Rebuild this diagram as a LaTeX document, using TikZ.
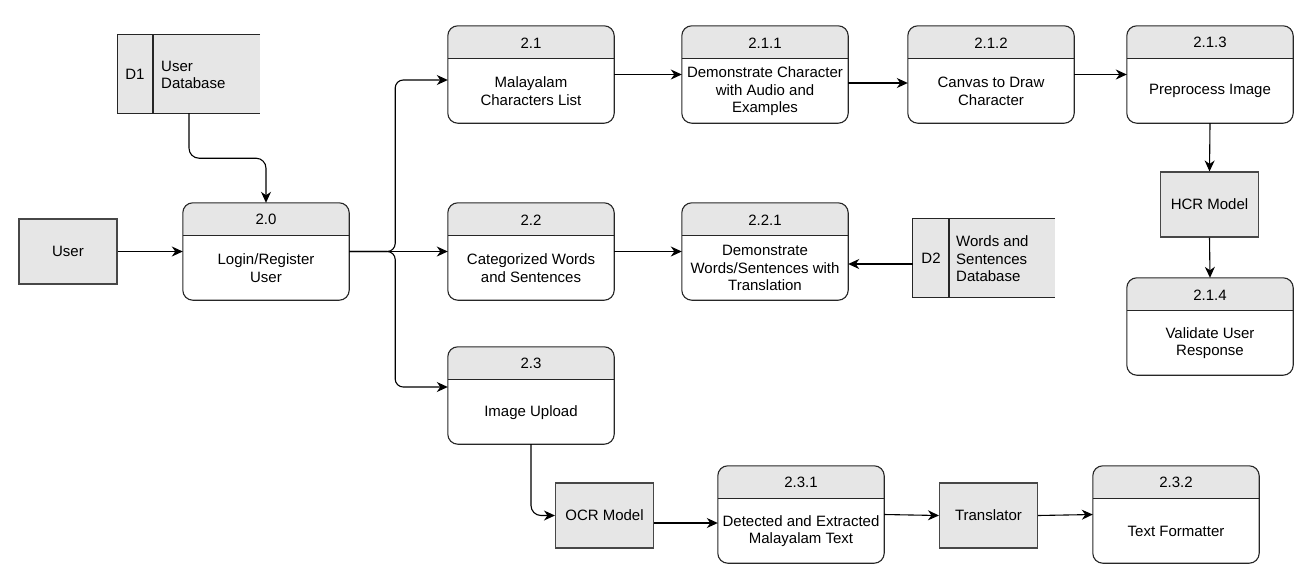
\documentclass[tikz,border=0pt]{standalone}
\usepackage{fontspec}
\setmainfont{Liberation Sans}
\usetikzlibrary{arrows.meta,calc}
\definecolor{hdr}{HTML}{E6E6E6}
\definecolor{ln}{HTML}{262626}
\tikzset{
  base/.style={font=\fontsize{15}{17.5}\selectfont, text=black},
  procbox/.style={minimum width=166pt, minimum height=97pt, inner sep=0pt},
  procline/.style={draw=ln, line width=1.1pt},
  txt/.style={base, align=center, inner sep=0pt},
  ext/.style={base, draw=ln!85!white, line width=1.1pt, fill=hdr, minimum width=98pt, minimum height=65pt, inner sep=0pt},
  storebox/.style={fill=hdr, minimum width=142pt, minimum height=78pt, inner sep=0pt},
  arr/.style={draw=black, line width=1.1pt, -{Stealth[length=11pt,width=10pt,inset=3.5pt]}},
}
\newcommand{\procnode}[5]{%
  \node[procbox] (#1) at (#2,#3+48.5) {};
  \begin{scope}
    \clip[rounded corners=10pt] (#1.north west) rectangle (#1.south east);
    \fill[hdr] (#1.north west) rectangle ([yshift=-33pt]#1.north east);
  \end{scope}
  \draw[procline] ([yshift=-33pt]#1.north west) -- ([yshift=-33pt]#1.north east);
  \draw[procline, rounded corners=10pt] (#1.north west) rectangle (#1.south east);
  \node[txt] (#1-num) at ([yshift=-17pt]#1.north) {#4};
  \node[txt] (#1-txt) at ([yshift=32pt]#1.south) {#5};
}
\begin{document}
\begin{tikzpicture}[x=1pt,y=-1pt]
\useasboundingbox (0,0) rectangle (1308,582);

% data stores
\node[storebox] (d1) at (189,74) {};
\draw[procline] (d1.north east) -- (d1.north west) -- (d1.south west) -- (d1.south east);
\draw[procline] (153,35) -- (153,113);
\node[txt] (d1-id) at (135,74) {D1};
\node[txt, anchor=west, align=left] (d1-name) at (161,75) {User\\Database};

\node[storebox] (d2) at (984,258) {};
\draw[procline] (d2.north east) -- (d2.north west) -- (d2.south west) -- (d2.south east);
\draw[procline] (949,219) -- (949,297);
\node[txt] (d2-id) at (931,258) {D2};
\node[txt, anchor=west, align=left] (d2-name) at (956,259) {Words and\\Sentences\\Database};

% external entities / models
\node[ext] (user) at (68,251.5) {User};
\node[ext] (hcr) at (1209.5,204.5) {HCR Model};
\node[ext] (ocr) at (604.5,515.5) {OCR Model};
\node[ext] (trans) at (988.5,515.5) {Translator};

% processes
\procnode{n20}{266}{203}{2.0}{Login/Register\\User}
\procnode{n21}{531}{26}{2.1}{Malayalam\\Characters List}
\procnode{n211}{765}{26}{2.1.1}{Demonstrate Character\\with Audio and\\Examples}
\procnode{n212}{991}{26}{2.1.2}{Canvas to Draw\\Character}
\procnode{n213}{1210}{26}{2.1.3}{Preprocess Image}
\procnode{n214}{1210}{278}{2.1.4}{Validate User\\Response}
\procnode{n22}{531}{203}{2.2}{Categorized Words\\and Sentences}
\procnode{n221}{765}{203}{2.2.1}{Demonstrate\\Words/Sentences with\\Translation}
\procnode{n23}{531}{347}{2.3}{Image Upload}
\procnode{n231}{801}{466}{2.3.1}{Detected and Extracted\\Malayalam Text}
\procnode{n232}{1176}{466}{2.3.2}{Text Formatter}

% connectors
\draw[arr] (user.east) -- (n20.west);
\draw[arr, rounded corners=10pt] (d1.south) -- ++(0,45) -| (n20.north);
\draw[arr, rounded corners=8pt] (n20.east) -- ++(46,0) |- ([yshift=-5.5pt]n21.west);
\draw[arr] (n20.east) -- (n22.west);
\draw[arr, rounded corners=8pt] (n20.east) -- ++(46,0) |- ([yshift=8.5pt]n23.west);
\draw[arr] (n21.east) -- (n211.west);
\draw[arr] ([yshift=-8.5pt]n211.east) -- ([yshift=-8.5pt]n212.west);
\draw[arr] (n212.east) -- (n213.west);
\draw[arr] (n213.south) -- (hcr.north);
\draw[arr] (hcr.south) -- (n214.north);
\draw[arr] (n22.east) -- (n221.west);
\draw[arr] ([yshift=-6pt]d2.west) -- ([yshift=-6pt]d2.west -| n221.east);
\draw[arr, rounded corners=10pt] (n23.south) |- (ocr.west);
\draw[arr] ([yshift=-7.5pt]ocr.east) -- ([yshift=-7.5pt]ocr.east -| n231.west);
\draw[arr] (n231.east) -- (trans.west);
\draw[arr] (trans.east) -- (n232.west);
\end{tikzpicture}
\end{document}
